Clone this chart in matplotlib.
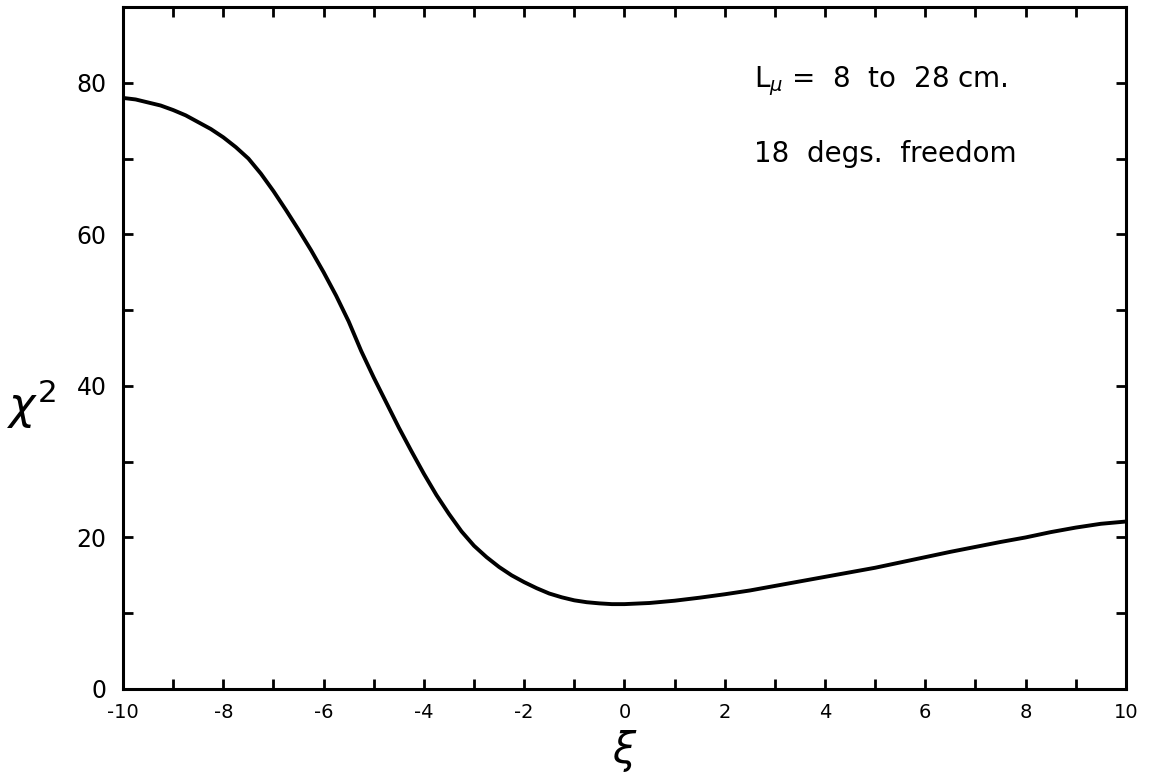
import matplotlib
matplotlib.use("Agg")
import matplotlib.pyplot as plt

# chi-squared of the fit as a function of the parameter xi
xi = [-10, -9.75, -9.5, -9.25, -9, -8.75, -8.5, -8.25, -8, -7.75, -7.5,
      -7.25, -7, -6.75, -6.5, -6.25, -6, -5.75, -5.5, -5.25, -5, -4.75,
      -4.5, -4.25, -4, -3.75, -3.5, -3.25, -3, -2.75, -2.5, -2.25, -2,
      -1.75, -1.5, -1.25, -1, -0.75, -0.5, -0.25, 0, 0.5, 1, 1.5, 2, 2.5,
      3, 3.5, 4, 4.5, 5, 5.5, 6, 6.5, 7, 7.5, 8, 8.5, 9, 9.5, 10]
chi2 = [78.0, 77.8, 77.4, 77.0, 76.4, 75.7, 74.8, 73.9, 72.8, 71.5, 70.0,
        68.0, 65.7, 63.2, 60.6, 57.9, 55.0, 51.9, 48.5, 44.6, 41.1, 37.8,
        34.5, 31.4, 28.4, 25.6, 23.1, 20.8, 18.9, 17.4, 16.1, 15.0, 14.1,
        13.3, 12.6, 12.1, 11.7, 11.45, 11.3, 11.2, 11.2, 11.35, 11.65,
        12.05, 12.5, 13.0, 13.6, 14.2, 14.8, 15.4, 16.0, 16.7, 17.4, 18.1,
        18.75, 19.4, 20.0, 20.7, 21.3, 21.8, 22.1]

x_ticks = list(range(-10, 11))
x_tick_labels = ["-10", "", "-8", "", "-6", "", "-4", "", "-2", "", "0",
                 "", "2", "", "4", "", "6", "", "8", "", "10"]
y_ticks = list(range(0, 91, 10))
y_tick_labels = ["0", "", "20", "", "40", "", "60", "", "80", ""]

plt.rcParams["font.family"] = ["DejaVu Sans"]
plt.rcParams["axes.unicode_minus"] = False

fig = plt.figure(figsize=(11.5, 7.78), dpi=100)
ax = fig.add_axes([0.107, 0.1144, 0.872, 0.8766])

ax.plot(xi, chi2, color="black", lw=2.8, solid_capstyle="round",
        solid_joinstyle="round")

ax.set_xlim(-10, 10)
ax.set_ylim(0, 90)
ax.set_xticks(x_ticks)
ax.set_xticklabels(x_tick_labels, fontsize=14)
ax.set_yticks(y_ticks)
ax.set_yticklabels(y_tick_labels, fontsize=17)

ax.tick_params(axis="both", which="major", direction="in", length=7,
               width=2.0, top=True, right=True, color="black")
ax.tick_params(axis="x", pad=10)
ax.tick_params(axis="y", pad=12)
for sp in ax.spines.values():
    sp.set_linewidth(2.2)

ax.text(0.629, 0.883, r"L$_{\mu}$ =  8  to  28 cm.", transform=ax.transAxes,
        fontsize=20, ha="left", va="baseline")
ax.text(0.629, 0.773, "18  degs.  freedom", transform=ax.transAxes,
        fontsize=20, ha="left", va="baseline")

fig.text(0.027, 0.48, r"$\chi^2$", fontsize=32, ha="center", va="center")
fig.text(0.543, 0.035, r"$\xi$", fontsize=30, ha="center", va="center")

fig.savefig("out.png", dpi=100, facecolor="white")
